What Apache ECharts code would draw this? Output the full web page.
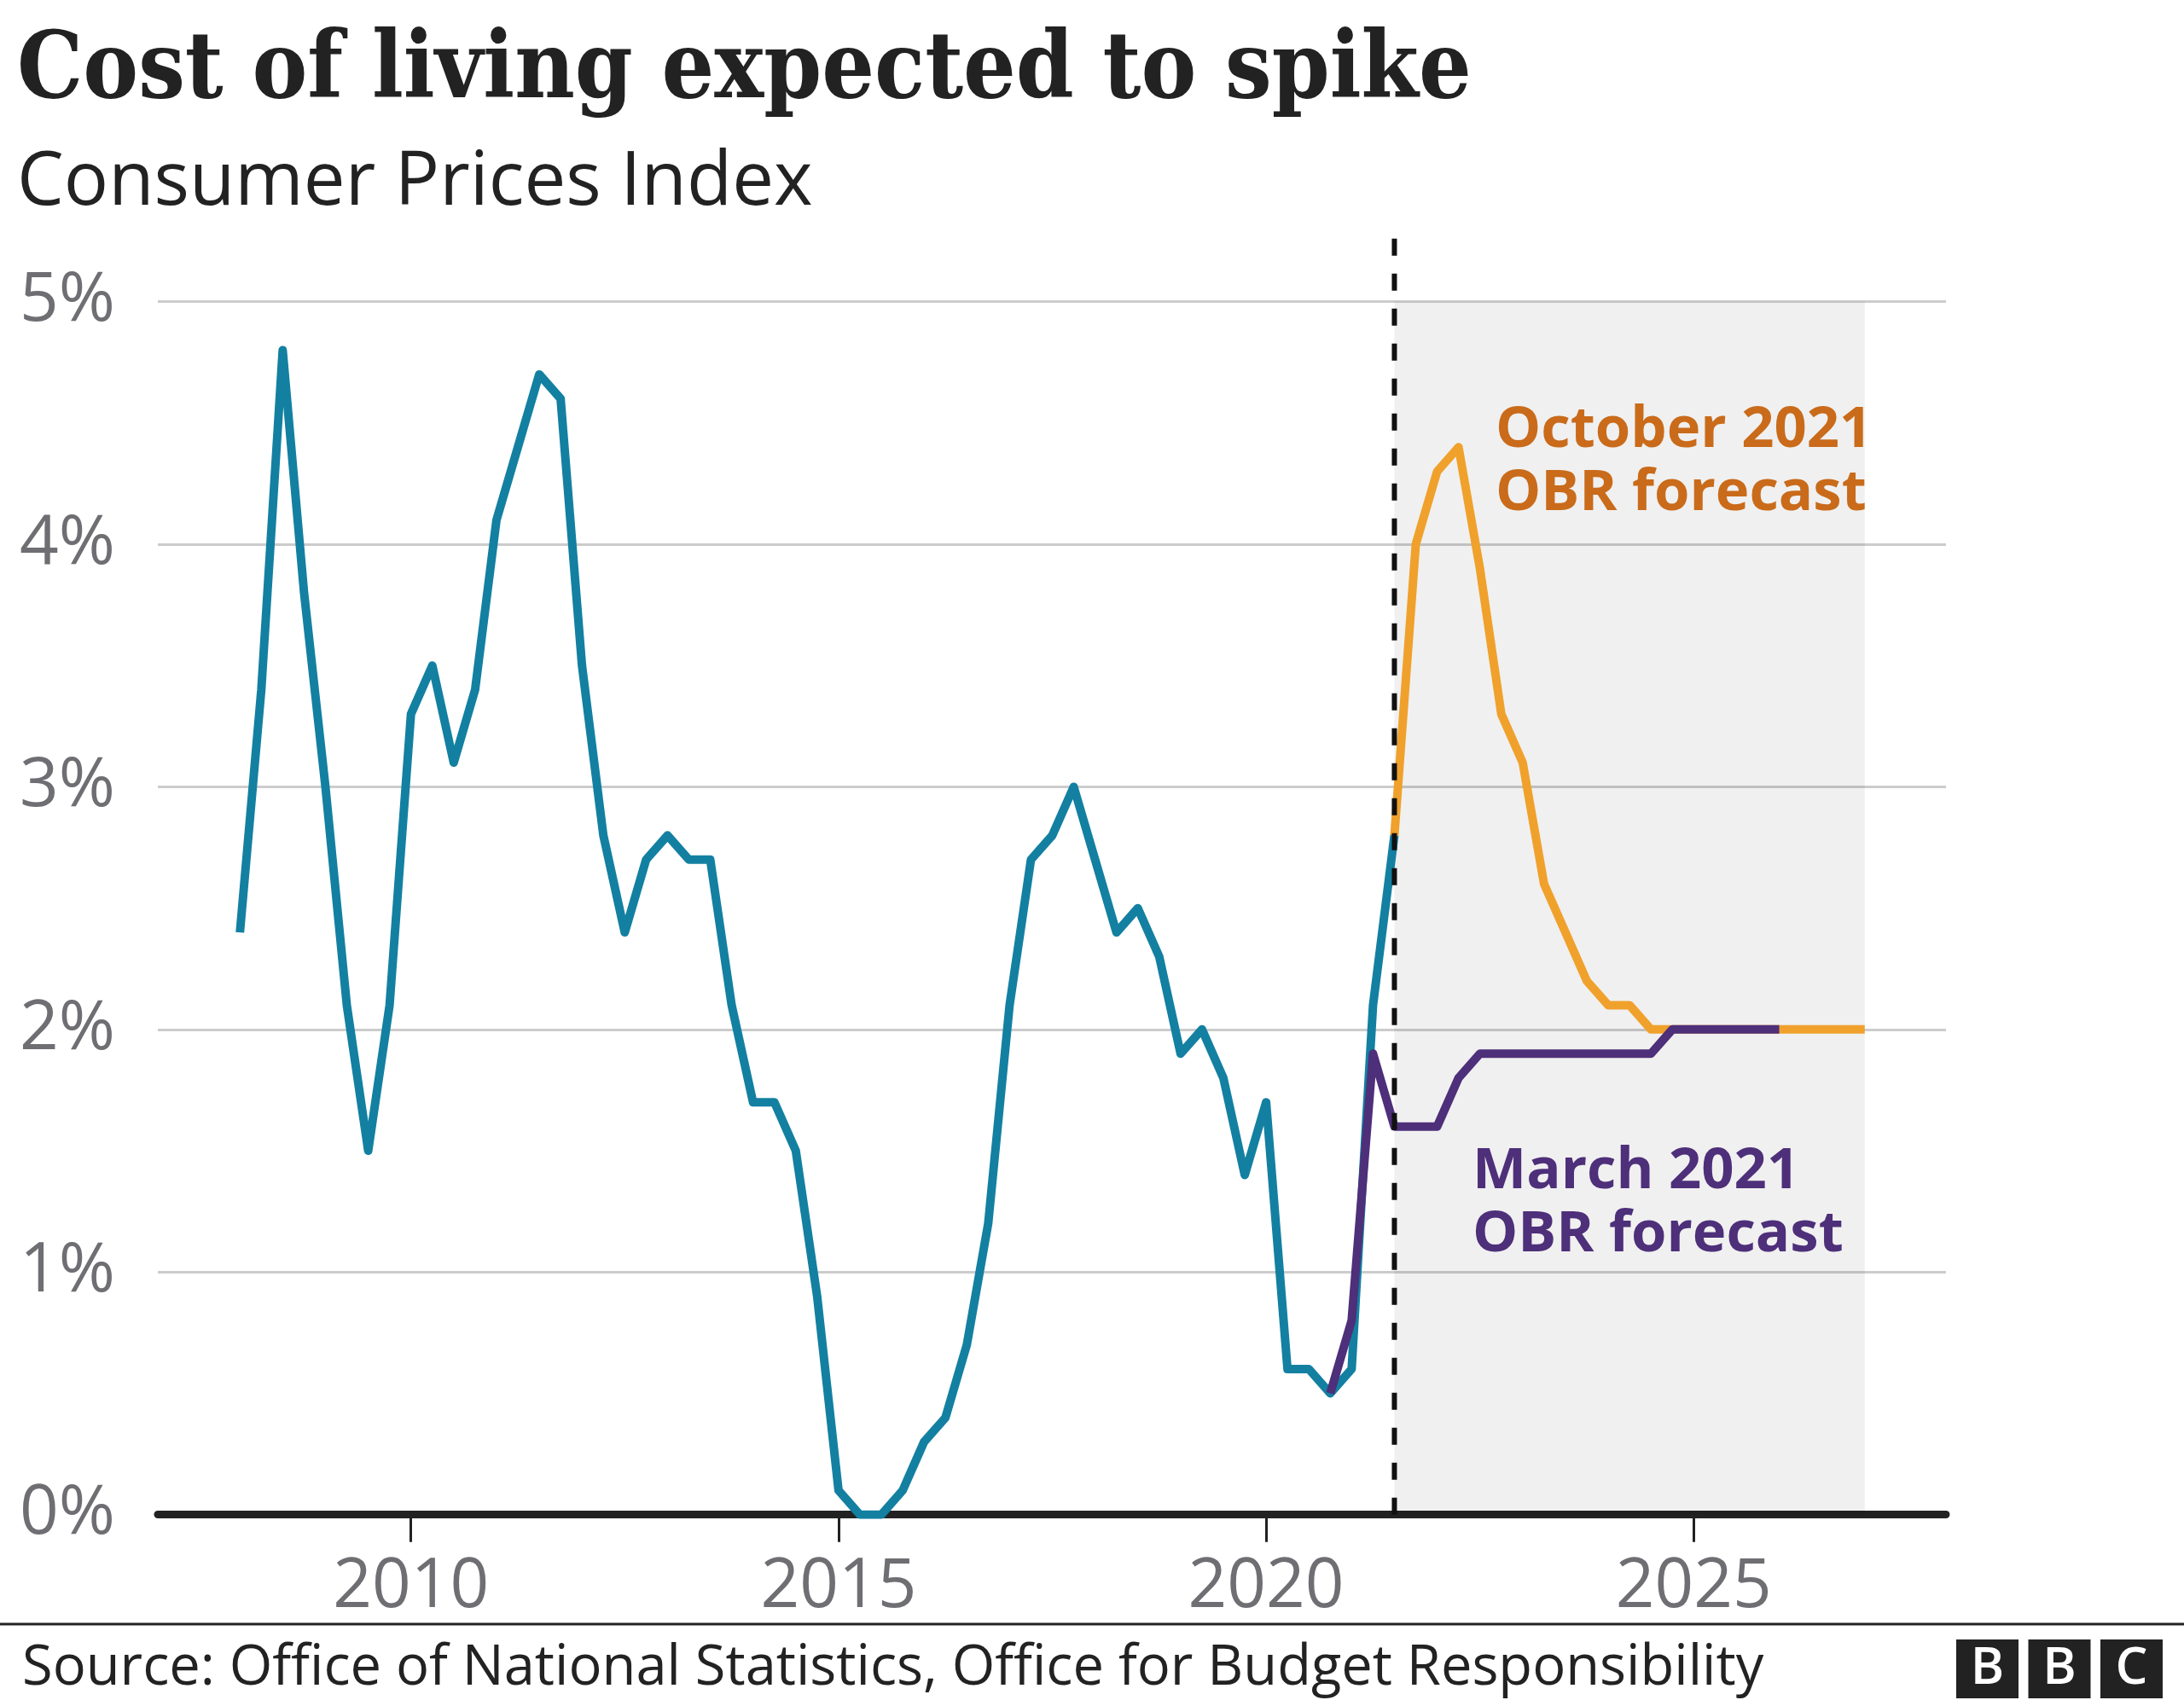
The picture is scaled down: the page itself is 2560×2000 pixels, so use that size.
<!DOCTYPE html>
<html>
<head>
<meta charset="utf-8">
<script src="https://cdn.jsdelivr.net/npm/echarts@6/dist/echarts.min.js"></script>
<style>
  html, body { margin: 0; padding: 0; background: #ffffff; }
  #chart { width: 2560px; height: 2000px; }
</style>
</head>
<body>
<div id="chart"></div>
<script>
// ---- Data ----
const actualQuarters = [2008.00,2008.25,2008.50,2008.75,2009.00,2009.25,2009.50,2009.75,2010.00,2010.25,2010.50,2010.75,2011.00,2011.25,2011.50,2011.75,2012.00,2012.25,2012.50,2012.75,2013.00,2013.25,2013.50,2013.75,2014.00,2014.25,2014.50,2014.75,2015.00,2015.25,2015.50,2015.75,2016.00,2016.25,2016.50,2016.75,2017.00,2017.25,2017.50,2017.75,2018.00,2018.25,2018.50,2018.75,2019.00,2019.25,2019.50,2019.75,2020.00,2020.25,2020.50,2020.75,2021.00,2021.25,2021.50];
const actualCPI = [2.4,3.4,4.8,3.8, 3.0,2.1,1.5,2.1, 3.3,3.5,3.1,3.4, 4.1,4.4,4.7,4.6, 3.5,2.8,2.4,2.7, 2.8,2.7,2.7,2.1, 1.7,1.7,1.5,0.9, 0.1,0.0,0.0,0.1, 0.3,0.4,0.7,1.2, 2.1,2.7,2.8,3.0, 2.7,2.4,2.5,2.3, 1.9,2.0,1.8,1.4, 1.7,0.6,0.6,0.5, 0.6,2.1,2.8];

const octQuarters = [2021.50,2021.75,2022.00,2022.25,2022.50,2022.75,2023.00,2023.25,2023.50,2023.75,2024.00,2024.25,2024.50,2024.75,2025.00,2025.25,2025.50,2025.75,2026.00,2026.25,2026.50,2026.75,2027.00];
const octForecast = [2.8,4.0,4.3,4.4,3.9,3.3,3.1,2.6,2.4,2.2,2.1,2.1,2.0,2.0,2.0,2.0,2.0,2.0,2.0,2.0,2.0,2.0,2.0];

const marQuarters = [2020.75,2021.00,2021.25,2021.50,2021.75,2022.00,2022.25,2022.50,2022.75,2023.00,2023.25,2023.50,2023.75,2024.00,2024.25,2024.50,2024.75,2025.00,2025.25,2025.50,2025.75,2026.00];
const marForecast = [0.5,0.8,1.9,1.6,1.6,1.6,1.8,1.9,1.9,1.9,1.9,1.9,1.9,1.9,1.9,1.9,2.0,2.0,2.0,2.0,2.0,2.0];

const forecastPeriod = [2021.5, 2027.0];
const forecastLineX = [2021.5, 2021.5];
const forecastLineY = [5.26, 0];
const xTickYears = [2010, 2015, 2020, 2025];
const yTicks = [0, 1, 2, 3, 4, 5];

const titleText = 'Cost of living expected to spike';
const subtitleText = 'Consumer Prices Index';
const sourceText = 'Source: Office of National Statistics, Office for Budget Responsibility';
const octLabel = ['October 2021', 'OBR forecast'];
const marLabel = ['March 2021', 'OBR forecast'];

// ---- Build ----
const pairs = (xs, ys) => xs.map((x, i) => [x, ys[i]]);
const SANS = '"Open Sans", "Noto Sans", sans-serif';

const chart = echarts.init(document.getElementById('chart'), null, { renderer: 'canvas' });

const txt = (text, x, y, size, weight, color, family, align) => ({
  type: 'text', x: x, y: y, silent: true, z: 100,
  style: {
    text: text, fill: color, fontSize: size, fontWeight: weight,
    fontFamily: family || SANS, align: align || 'left', verticalAlign: 'middle'
  }
});

const logo = [];
['B', 'B', 'C'].forEach((ch, i) => {
  const x0 = 2293 + i * 84.5;
  logo.push({ type: 'rect', silent: true, z: 100, shape: { x: x0, y: 1922, width: 73, height: 69 }, style: { fill: '#222222' } });
  logo.push(txt(ch, x0 + 36.5, 1957, 60, 600, '#ffffff', SANS, 'center'));
});

const option = {
  backgroundColor: '#ffffff',
  animation: false,
  grid: { left: 185, right: 279, top: 353.6, bottom: 224.3, containLabel: false, outerBoundsMode: 'none' },
  xAxis: {
    type: 'value', min: 2007.04, max: 2027.95,
    axisLine: { show: true, onZero: false, lineStyle: { color: '#222222', width: 9 } },
    axisTick: { show: true, customValues: xTickYears, length: 32, lineStyle: { color: '#222222', width: 3 } },
    axisLabel: { show: true, customValues: xTickYears, margin: 46, fontSize: 80, fontFamily: SANS, color: '#6E6E73', formatter: v => String(v) },
    splitLine: { show: false }
  },
  yAxis: {
    type: 'value', min: yTicks[0], max: yTicks[yTicks.length - 1], interval: 1,
    axisLine: { show: false }, axisTick: { show: false },
    axisLabel: { align: 'left', margin: 162, fontSize: 80, fontFamily: SANS, color: '#6E6E73', formatter: '{value}%' },
    splitLine: { show: true, lineStyle: { color: '#CCCCCC', width: 3 } }
  },
  series: [
    {
      name: 'CPI', type: 'line', data: pairs(actualQuarters, actualCPI),
      symbol: 'none', z: 2,
      lineStyle: { color: '#1380A1', width: 10, join: 'round' },
      markArea: {
        silent: true,
        itemStyle: { color: 'rgba(0,0,0,0.06)' },
        data: [[{ xAxis: forecastPeriod[0], yAxis: yTicks[0] }, { xAxis: forecastPeriod[1], yAxis: yTicks[yTicks.length - 1] }]]
      }
    },
    {
      name: 'October 2021 OBR forecast', type: 'line', data: pairs(octQuarters, octForecast),
      symbol: 'none', z: 3,
      lineStyle: { color: '#F0A12C', width: 10, join: 'round' }
    },
    {
      name: 'March 2021 OBR forecast', type: 'line', data: pairs(marQuarters, marForecast),
      symbol: 'none', z: 4,
      lineStyle: { color: '#4E2F7A', width: 10, join: 'round' }
    },
    {
      name: 'Forecast start', type: 'line', data: pairs(forecastLineX, forecastLineY),
      symbol: 'none', z: 10, clip: false, silent: true,
      lineStyle: { color: '#111111', width: 6, type: [20, 21] }
    }
  ],
  graphic: [
    txt(titleText, 20, 86, 108, 'bold', '#222222', '"DejaVu Serif Condensed", "DejaVu Serif", serif'),
    txt(subtitleText, 20, 215, 87, 'normal', '#222222'),
    txt(octLabel[0], 1753, 505, 67, 'bold', '#C96B1A'),
    txt(octLabel[1], 1753, 578.5, 67, 'bold', '#C96B1A'),
    txt(marLabel[0], 1726, 1373.5, 67, 'bold', '#4E2F7A'),
    txt(marLabel[1], 1726, 1447.6, 67, 'bold', '#4E2F7A'),
    { type: 'line', silent: true, z: 100, shape: { x1: 0, y1: 1904, x2: 2560, y2: 1904 }, style: { stroke: '#222222', lineWidth: 3 } },
    txt(sourceText, 26, 1956, 65, 'normal', '#222222'),
    ...logo
  ]
};
chart.setOption(option);
</script>
</body>
</html>
